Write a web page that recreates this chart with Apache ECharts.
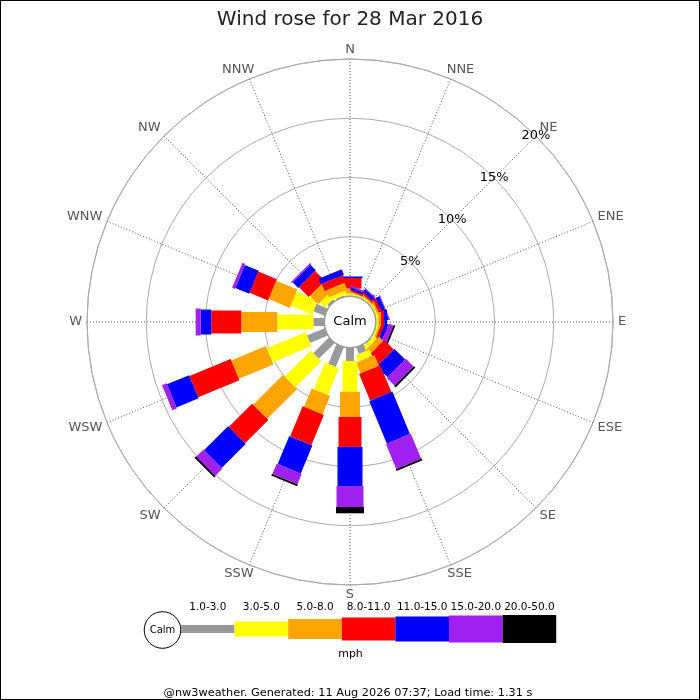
<!DOCTYPE html>
<html>
<head>
<meta charset="utf-8">
<script src="https://cdn.jsdelivr.net/npm/echarts@6/dist/echarts.min.js"></script>
<style>
html,body{margin:0;padding:0;background:#fff;}
#chart{position:absolute;left:0;top:0;width:700px;height:700px;}
#frame{position:absolute;left:0;top:0;width:700px;height:700px;box-sizing:border-box;border:1px solid #000;pointer-events:none;}
</style>
</head>
<body>
<div id="chart"></div>
<div id="frame"></div>
<script>
// ---- data (percent of observations per direction and speed bin) ----
const directions = ['N','NNE','NE','ENE','E','ESE','SE','SSE','S','SSW','SW','WSW','W','WNW','NW','NNW'];
const speedBins  = ['1.0-3.0','3.0-5.0','5.0-8.0','8.0-11.0','11.0-15.0','15.0-20.0','20.0-50.0'];
const pct_1_3   = [0.05,0.04,0.04,0.04,0.05,0.04,0.08,0.59,1.10,1.77,1.86,1.60,0.90,1.01,0.17,0.08];
const pct_3_5   = [0.16,0.09,0.09,0.13,0.16,0.13,0.34,0.59,2.59,2.45,3.12,3.55,3.04,1.94,0.59,0.34];
const pct_5_8   = [0.42,0.08,0.12,0.17,0.21,0.17,0.51,0.97,2.13,1.69,3.54,3.16,3.04,1.94,1.01,0.63];
const pct_8_11  = [0.89,0.13,0.17,0.25,0.28,0.25,1.14,2.45,2.53,2.74,2.79,3.76,2.53,1.69,1.16,0.64];
const pct_11_15 = [0.13,0.21,0.26,0.34,0.23,0.30,1.27,3.88,3.30,2.57,2.87,2.02,0.89,1.27,0.65,0.50];
const pct_15_20 = [0.00,0.13,0.08,0.08,0.00,0.42,0.92,2.28,1.77,0.93,0.84,0.42,0.43,0.25,0.13,0.00];
const pct_20_50 = [0.00,0.00,0.00,0.00,0.00,0.15,0.17,0.17,0.53,0.17,0.17,0.00,0.00,0.00,0.00,0.00];
const radiusTicks = [5,10,15,20];
const radiusTickLabels = ['5%','10%','15%','20%'];
const calmLabel = 'Calm';
const unitLabel = 'mph';
const titleText = 'Wind rose for 28 Mar 2016';
const footerText = '@nw3weather. Generated: 11 Aug 2026 07:37; Load time: 1.31 s';

// ---- styles ----
const bins = [pct_1_3,pct_3_5,pct_5_8,pct_8_11,pct_11_15,pct_15_20,pct_20_50];
const colors = ['#999999','#ffff00','#ffa500','#ff0000','#0000ff','#a020f0','#000000'];
const legWidths = [8,15,20,23,25,27,28];
const FONT = '"DejaVu Sans", sans-serif';
const DIR_FONT = '13px ' + FONT;

const step = 360 / directions.length;
const roseData = [];
directions.forEach((d, i) => {
  let acc = 0;
  bins.forEach((b, s) => {
    const v = b[i];
    if (v > 0) roseData.push([acc, i * step, acc + v, s]);
    acc += v;
  });
});

const measureCtx = document.createElement('canvas').getContext('2d');
function textWidth(t, font) { measureCtx.font = font; return measureCtx.measureText(t).width; }
const clamp1 = v => Math.max(-1, Math.min(1, v));

function renderLeg(params, api) {
  const cs = params.coordSys;
  const start = api.value(0), ang = api.value(1), end = api.value(2), s = api.value(3);
  const p0 = api.coord([start, ang]);
  const p1 = api.coord([end, ang]);
  let dx = p1[0] - cs.cx, dy = p1[1] - cs.cy;
  const L = Math.hypot(dx, dy) || 1; dx /= L; dy /= L;
  const nx = -dy, ny = dx, hw = legWidths[s] / 2;
  const a = start === 0 ? 1.5 : 0;
  const q0 = [p0[0] - dx * a, p0[1] - dy * a];
  return {
    type: 'polygon',
    shape: { points: [
      [q0[0] + nx * hw, q0[1] + ny * hw],
      [p1[0] + nx * hw, p1[1] + ny * hw],
      [p1[0] - nx * hw, p1[1] - ny * hw],
      [q0[0] - nx * hw, q0[1] - ny * hw]
    ] },
    style: { fill: colors[s] }
  };
}

function renderCalm(params, api) {
  const cs = params.coordSys;
  return {
    type: 'group',
    children: [
      { type: 'circle', shape: { cx: cs.cx, cy: cs.cy, r: 25.5 }, style: { fill: '#fff', stroke: '#999', lineWidth: 1 } },
      { type: 'text', x: cs.cx, y: cs.cy, style: { text: calmLabel, fill: '#000', font: '13px ' + FONT, align: 'center', verticalAlign: 'middle', textAlign: 'center', textVerticalAlign: 'middle' } }
    ]
  };
}

function renderTick(params, api) {
  const p = api.coord([api.value(0), api.value(1)]);
  const idx = api.value(2);
  return {
    type: 'text', x: p[0], y: p[1],
    style: { text: radiusTickLabels[idx], fill: '#000', font: '13px ' + FONT, align: 'center', verticalAlign: 'middle', textAlign: 'center', textVerticalAlign: 'middle' }
  };
}

// direction labels just outside the outer ring
function renderDir(params, api) {
  const cs = params.coordSys;
  const p = api.coord([api.value(0), api.value(1)]);
  const name = directions[api.value(2)];
  let ux = p[0] - cs.cx, uy = p[1] - cs.cy;
  const R = Math.hypot(ux, uy) || 1; ux /= R; uy /= R;
  const w = textWidth(name, DIR_FONT), h = 9, m = 5;
  const x = p[0] + ux * m + clamp1(1.5 * ux) * w / 2;
  const y = p[1] + uy * m + clamp1(1.5 * uy) * h / 2;
  return {
    type: 'text', x: x, y: y,
    style: { text: name, fill: '#555', font: DIR_FONT, align: 'center', verticalAlign: 'middle', textAlign: 'center', textVerticalAlign: 'middle' }
  };
}

// legend graphic
const lgX0 = 181, lgW = 53.6, lgY = 629;
const txt = (x, y, t, size) => ({ type: 'text', x: x, y: y, style: { text: t, fill: '#000', font: size + 'px ' + FONT, align: 'center', verticalAlign: 'middle', textAlign: 'center', textVerticalAlign: 'middle' } });
const graphics = [];
graphics.push({ type: 'circle', shape: { cx: 162.5, cy: 630, r: 18.3 }, style: { fill: '#fff', stroke: '#000', lineWidth: 1 } });
graphics.push(txt(162.5, 630, calmLabel, 10));
speedBins.forEach((lab, i) => {
  const h = legWidths[i];
  graphics.push({ type: 'rect', shape: { x: lgX0 + i * lgW, y: lgY - h / 2, width: lgW, height: h }, style: { fill: colors[i] } });
  graphics.push(txt(lgX0 + i * lgW + lgW / 2, 607, lab, 10.5));
});
graphics.push(txt(350.5, 654, unitLabel, 11));
graphics.push(txt(348, 693, footerText, 11.3));

const chart = echarts.init(document.getElementById('chart'), null, { renderer: 'canvas' });
chart.setOption({
  animation: false,
  backgroundColor: '#fff',
  textStyle: { fontFamily: FONT },
  title: { text: titleText, left: 'center', top: 5, textStyle: { fontSize: 20, fontWeight: 'normal', color: '#222', fontFamily: FONT } },
  polar: { center: [350, 322], radius: [26, 263] },
  angleAxis: {
    type: 'value', min: 0, max: 360, interval: step, startAngle: 90, clockwise: true,
    axisLine: { show: true, lineStyle: { color: '#aaa', width: 1 } },
    axisTick: { show: false },
    axisLabel: { show: false },
    splitLine: { show: true, lineStyle: { color: '#555', type: [1, 2], width: 1 } }
  },
  radiusAxis: {
    type: 'value', min: 0, max: 20, interval: 5,
    axisLine: { show: false }, axisTick: { show: false }, axisLabel: { show: false },
    splitLine: { show: true, lineStyle: { color: '#aaa', width: 1 } }
  },
  graphic: { elements: graphics },
  series: [
    { type: 'custom', coordinateSystem: 'polar', renderItem: renderLeg, data: roseData, encode: { radius: [0, 2], angle: 1 }, z: 2, silent: true },
    { type: 'custom', coordinateSystem: 'polar', renderItem: renderCalm, data: [[0, 0]], encode: { radius: 0, angle: 1 }, z: 3, silent: true },
    { type: 'custom', coordinateSystem: 'polar', renderItem: renderTick, data: radiusTicks.map((v, i) => [v, 45, i]), encode: { radius: 0, angle: 1 }, z: 4, silent: true },
    { type: 'custom', coordinateSystem: 'polar', renderItem: renderDir, data: directions.map((d, i) => [20, i * step, i]), encode: { radius: 0, angle: 1 }, z: 4, silent: true }
  ]
});
</script>
</body>
</html>
